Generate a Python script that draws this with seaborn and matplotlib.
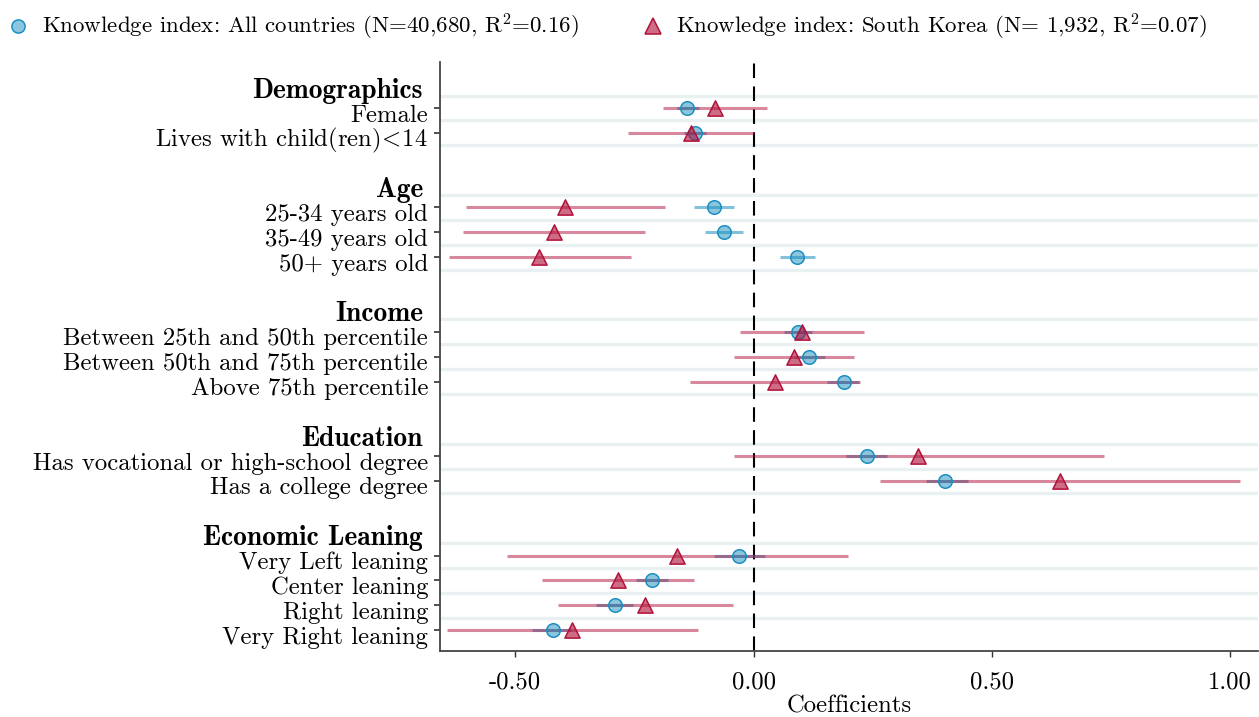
import pandas as pd
import matplotlib
matplotlib.use("Agg")
import matplotlib.pyplot as plt
import matplotlib.transforms as mtransforms
from matplotlib.lines import Line2D
import seaborn as sns

# Set visual style
sns.set_theme(style="white")
plt.rcParams["font.family"] = ["cmr10", "DejaVu Serif"]
plt.rcParams["mathtext.fontset"] = "cm"
plt.rcParams["axes.unicode_minus"] = False
plt.rcParams["axes.formatter.use_mathtext"] = True
plt.rcParams["text.color"] = "black"
plt.rcParams["xtick.color"] = "black"
plt.rcParams["ytick.color"] = "black"
plt.rcParams["axes.labelcolor"] = "black"

# --- data ---
groups = ["Demographics", "Age", "Income", "Education", "Economic Leaning"]
group_items = [
    ["Female", r"Lives with child(ren)$\!<\!$14"],
    ["25-34 years old", "35-49 years old", "50+ years old"],
    ["Between 25th and 50th percentile", "Between 50th and 75th percentile",
     "Above 75th percentile"],
    ["Has vocational or high-school degree", "Has a college degree"],
    ["Very Left leaning", "Center leaning", "Right leaning", "Very Right leaning"],
]

all_coef = [-0.139, -0.122, -0.084, -0.062, 0.092, 0.093, 0.117, 0.189,
            0.237, 0.402, -0.031, -0.213, -0.291, -0.421]
all_lo = [-0.161, -0.147, -0.126, -0.101, 0.056, 0.064, 0.086, 0.155,
          0.193, 0.361, -0.084, -0.247, -0.331, -0.465]
all_hi = [-0.115, -0.099, -0.042, -0.022, 0.129, 0.123, 0.149, 0.222,
          0.281, 0.450, 0.023, -0.180, -0.252, -0.384]

kor_coef = [-0.082, -0.131, -0.395, -0.418, -0.451, 0.101, 0.084, 0.044,
            0.346, 0.642, -0.161, -0.284, -0.227, -0.380]
kor_lo = [-0.191, -0.263, -0.604, -0.609, -0.639, -0.028, -0.041, -0.134,
          -0.041, 0.266, -0.518, -0.445, -0.410, -0.643]
kor_hi = [0.029, 0.001, -0.185, -0.227, -0.258, 0.231, 0.210, 0.224,
          0.736, 1.020, 0.198, -0.125, -0.043, -0.117]

legend_all = "Knowledge index: All countries (N=40,680, R$^2$=0.16)"
legend_kor = "Knowledge index: South Korea (N= 1,932, R$^2$=0.07)"

x_ticks = [-0.5, 0.0, 0.5, 1.0]
x_ticklabels = ["-0.50", "0.00", "0.50", "1.00"]

# colours
blue = "#1a8fc0"
red = "#b0123a"
blue_fill = (0.1, 0.56, 0.75, 0.5)
red_fill = (0.69, 0.07, 0.23, 0.62)

# --- row layout: header, items, blank line between groups ---
header_pos, item_pos, item_lab = [], [], []
pos = 0
for g, items in zip(groups, group_items):
    header_pos.append(pos)
    pos += 1
    for it in items:
        item_pos.append(pos)
        item_lab.append(it)
        pos += 1
    pos += 1

df = pd.DataFrame({
    "y": item_pos * 2,
    "coef": all_coef + kor_coef,
    "lo": all_lo + kor_lo,
    "hi": all_hi + kor_hi,
    "model": ["all"] * len(all_coef) + ["kor"] * len(kor_coef),
})
d_all = df[df["model"] == "all"]
d_kor = df[df["model"] == "kor"]

fig = plt.figure(figsize=(12.59, 7.17), dpi=100)
ax = fig.add_axes([0.3495, 0.092, 0.6495, 0.8215])

# light separators between rows
grid_y = sorted([p + 0.5 for p in header_pos + item_pos])[:-1]
for gy in grid_y:
    ax.axhline(gy, color="#e8f0f2", lw=2.4, zorder=0)

ax.axvline(0, color="black", lw=1.5, linestyle=(0, (7, 4)), zorder=1)

# confidence intervals
ax.hlines(d_all["y"], d_all["lo"], d_all["hi"], color=blue, alpha=0.55, lw=2.2, zorder=2)
ax.hlines(d_kor["y"], d_kor["lo"], d_kor["hi"], color=red, alpha=0.5, lw=2.2, zorder=3)

# point estimates
sns.scatterplot(data=d_all, x="coef", y="y", ax=ax, marker="o", s=95,
                color=blue_fill, edgecolor=blue, linewidth=1.1,
                zorder=4, legend=False)
sns.scatterplot(data=d_kor, x="coef", y="y", ax=ax, marker="^", s=120,
                color=red_fill, edgecolor=red, linewidth=1.1,
                zorder=5, legend=False)

ax.set_xlim(-0.658, 1.058)
ax.set_ylim(22.84, -0.85)

# row labels: baseline sits a bit below the tick, as in the original
ytrans = mtransforms.blended_transform_factory(ax.transAxes, ax.transData)
down = mtransforms.ScaledTranslation(0, -13.5 / 100, fig.dpi_scale_trans)
ax.set_yticks(item_pos)
ax.set_yticklabels([])
for p, lab in zip(item_pos, item_lab):
    ax.text(-0.0147, p, lab, transform=ytrans + down, ha="right",
            va="baseline", fontsize=17.8)
down_h = mtransforms.ScaledTranslation(0, -14.5 / 100, fig.dpi_scale_trans)
for p, g in zip(header_pos, groups):
    ax.text(-0.021, p, g, transform=ytrans + down_h, ha="right",
            va="baseline", fontsize=19.8, fontfamily="cmb10")

ax.set_xticks(x_ticks)
ax.set_xticklabels(x_ticklabels, fontsize=17.8)
ax.set_xlabel("Coefficients", fontsize=17.8, labelpad=1)
ax.set_ylabel("")

ax.tick_params(axis="y", length=4, width=1.2, color="#333333", left=True)
ax.tick_params(axis="x", length=4, width=1.0, color="#333333", bottom=True, pad=11)

for s in ["top", "right"]:
    ax.spines[s].set_visible(False)
for s in ["left", "bottom"]:
    ax.spines[s].set_color("#444444")
    ax.spines[s].set_linewidth(1.3)

handles = [
    Line2D([], [], linestyle="none", marker="o", markersize=9.5,
           markerfacecolor=blue_fill, markeredgecolor=blue, markeredgewidth=1.1),
    Line2D([], [], linestyle="none", marker="^", markersize=11,
           markerfacecolor=red_fill, markeredgecolor=red, markeredgewidth=1.1),
]
fig.legend(handles, [legend_all, legend_kor], loc="upper left",
           bbox_to_anchor=(0.0, 0.9958), ncol=2, frameon=False, fontsize=16.5,
           handlelength=0.8, handletextpad=0.63, columnspacing=2.84,
           borderaxespad=0.0)

fig.savefig("out.png", dpi=100)
